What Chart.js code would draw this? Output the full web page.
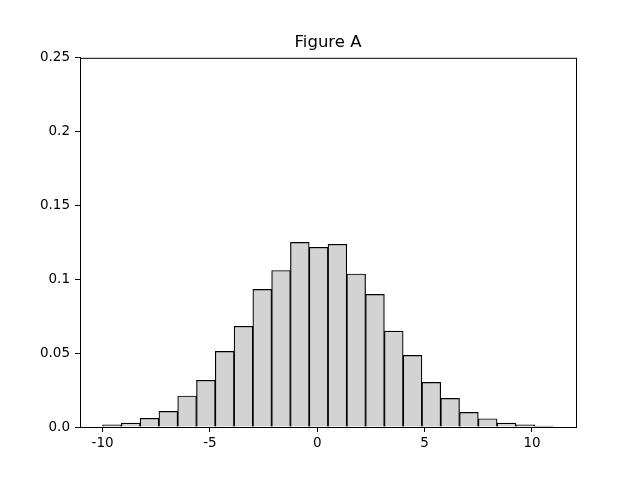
<!DOCTYPE html>
<html>
<head>
<meta charset="utf-8">
<script src="https://cdn.jsdelivr.net/npm/chart.js@4/dist/chart.umd.min.js"></script>
<style>
  html, body { margin: 0; padding: 0; background: #fff; }
  #wrap { width: 640px; height: 480px; }
</style>
</head>
<body>
<div id="wrap"><canvas id="chart"></canvas></div>
<script>
// histogram bins: 24 bins from -10 to 11
const binStart = -10;
const binWidth = 0.875;
const density = [
  0.0014, 0.0027, 0.0059, 0.0106, 0.0210, 0.0316, 0.0512, 0.0682,
  0.0932, 0.1060, 0.1250, 0.1217, 0.1237, 0.1036, 0.0898, 0.0650,
  0.0485, 0.0302, 0.0194, 0.0099, 0.0056, 0.0027, 0.0014, 0.0007
];
const xTicks = [-10, -5, 0, 5, 10];
const yTicks = [0, 0.05, 0.1, 0.15, 0.2, 0.25];
const yTickLabels = ['0.0', '0.05', '0.1', '0.15', '0.2', '0.25'];

const points = density.map((v, i) => ({ x: binStart + binWidth * (i + 0.5), y: v }));

// draws the top/right spines
const frame = {
  id: 'frame',
  afterDraw(chart) {
    const a = chart.chartArea;
    const c = chart.ctx;
    c.save();
    c.strokeStyle = '#000';
    c.lineWidth = 1;
    c.strokeRect(a.left + 0.5, a.top + 0.5, a.right - a.left, a.bottom - a.top);
    c.restore();
  }
};

Chart.defaults.font.family = 'DejaVu Sans';
Chart.defaults.color = '#000';

const ctx = document.getElementById('chart');
new Chart(ctx, {
  type: 'bar',
  data: {
    datasets: [{
      data: points,
      backgroundColor: '#d3d3d3',
      borderColor: '#000',
      borderWidth: 1.2,
      barPercentage: 1,
      categoryPercentage: 1
    }]
  },
  options: {
    responsive: true,
    maintainAspectRatio: false,
    animation: false,
    // left padding 16 so the title centres over the plot area
    layout: { padding: { left: 16, right: 0, top: 0, bottom: 0 } },
    plugins: {
      legend: { display: false },
      tooltip: { enabled: false },
      title: {
        display: true,
        text: 'Figure A',
        font: { size: 16.5, weight: 'normal' },
        lineHeight: 1.2,
        padding: { top: 33, bottom: 5 }
      }
    },
    scales: {
      x: {
        type: 'linear',
        min: -11.05,
        max: 12.05,
        offset: false,
        afterBuildTicks: s => { s.ticks = xTicks.map(v => ({ value: v })); },
        afterFit: s => { s.height = 53; },
        grid: { display: true, offset: false, drawOnChartArea: false, color: '#000', tickLength: 5 },
        border: { display: true, color: '#000' },
        ticks: { font: { size: 13.5 }, padding: 3, maxRotation: 0 }
      },
      y: {
        min: 0,
        max: 0.25,
        afterBuildTicks: s => { s.ticks = yTicks.map(v => ({ value: v })); },
        afterFit: s => { s.width = 64; },
        grid: { display: true, drawOnChartArea: false, color: '#000', tickLength: 5 },
        border: { display: true, color: '#000' },
        ticks: {
          font: { size: 13.5 },
          padding: 5,
          callback: (v, i) => yTickLabels[i]
        }
      },
      // empty right axis, only reserves the right margin
      yr: {
        position: 'right',
        min: 0,
        max: 0.25,
        afterFit: s => { s.width = 64; },
        grid: { display: false },
        border: { display: false },
        ticks: { display: false }
      }
    }
  },
  plugins: [frame]
});
</script>
</body>
</html>
